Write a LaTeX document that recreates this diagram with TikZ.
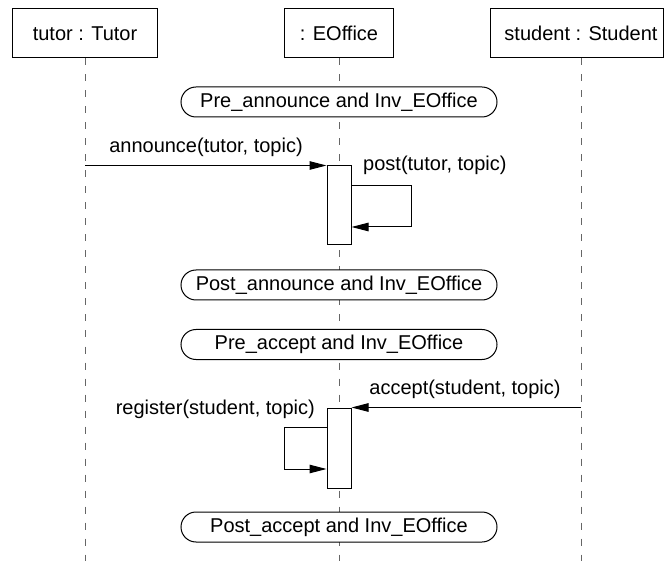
\documentclass[tikz,border=0pt]{standalone}
\usepackage{fontspec}
\setmainfont{Liberation Sans}
\usetikzlibrary{arrows.meta}

\begin{document}
\begin{tikzpicture}[x=1pt,y=-1pt,
  font=\fontsize{20}{24}\selectfont,
  objbox/.style={draw, line width=1pt, minimum height=49pt, inner sep=0pt},
  lifeline/.style={draw=black!60, line width=1pt, dash pattern=on 7pt off 9pt},
  cond/.style={draw, fill=white, rounded corners=15pt, minimum width=316pt,
    minimum height=30pt, line width=1pt, inner sep=0pt},
  act/.style={draw, fill=white, line width=1pt, minimum width=24pt, inner sep=0pt},
  msg/.style={line width=1pt, -{Triangle[length=17pt,width=8.5pt]}},
  lbl/.style={inner sep=0pt}
]
\useasboundingbox (0,0) rectangle (664,561);

% participants
\node[objbox, minimum width=145pt] (tutor) at (85,33.5) {tutor : Tutor};
\node[objbox, minimum width=109pt] (office) at (339,33.5) {: EOffice};
\node[objbox, draw=none, minimum width=150pt] (student) at (581,33.5) {student : Student};
\draw[line width=1pt] (490,9) rectangle (663,58);

% lifelines
\coordinate (tutorEnd) at (85,561);
\coordinate (officeEnd) at (339,561);
\coordinate (studentEnd) at (581,561);
\draw[lifeline] (tutor.south) -- (tutorEnd);
\draw[lifeline] (office.south) -- (officeEnd);
\draw[lifeline] (student.south) -- (studentEnd);

% state conditions
\node[cond] (preA)  at (339,102)   {Pre\_announce and Inv\_EOffice};
\node[cond] (postA) at (339,285)   {Post\_announce and Inv\_EOffice};
\node[cond] (preB)  at (339,344.5) {Pre\_accept and Inv\_EOffice};
\node[cond] (postB) at (339,527)   {Post\_accept and Inv\_EOffice};

% activations
\node[act, minimum height=79pt] (act1) at (339,205.5) {};
\node[act, minimum height=80pt] (act2) at (339,448) {};

% announce
\draw[msg] (tutor.south |- act1.north west) -- (act1.north west);
\node[lbl] (announceLbl) at (206,147) {announce(tutor, topic)};
\draw[msg] ([yshift=19.5pt]act1.east) -- ++(60,0) -- ++(0,41)
  -- ([yshift=-21.5pt]act1.east);
\node[lbl, anchor=west] (postLbl) at (363,165) {post(tutor, topic)};

% accept
\draw[msg] (student.south |- act2.north east) -- (act2.north east);
\node[lbl] (acceptLbl) at (465,389) {accept(student, topic)};
\draw[msg] ([yshift=21pt]act2.west) -- ++(-42,0) -- ++(0,42)
  -- ([yshift=-21pt]act2.west);
\node[lbl, anchor=east] (registerLbl) at (315,409) {register(student, topic)};
\end{tikzpicture}
\end{document}
